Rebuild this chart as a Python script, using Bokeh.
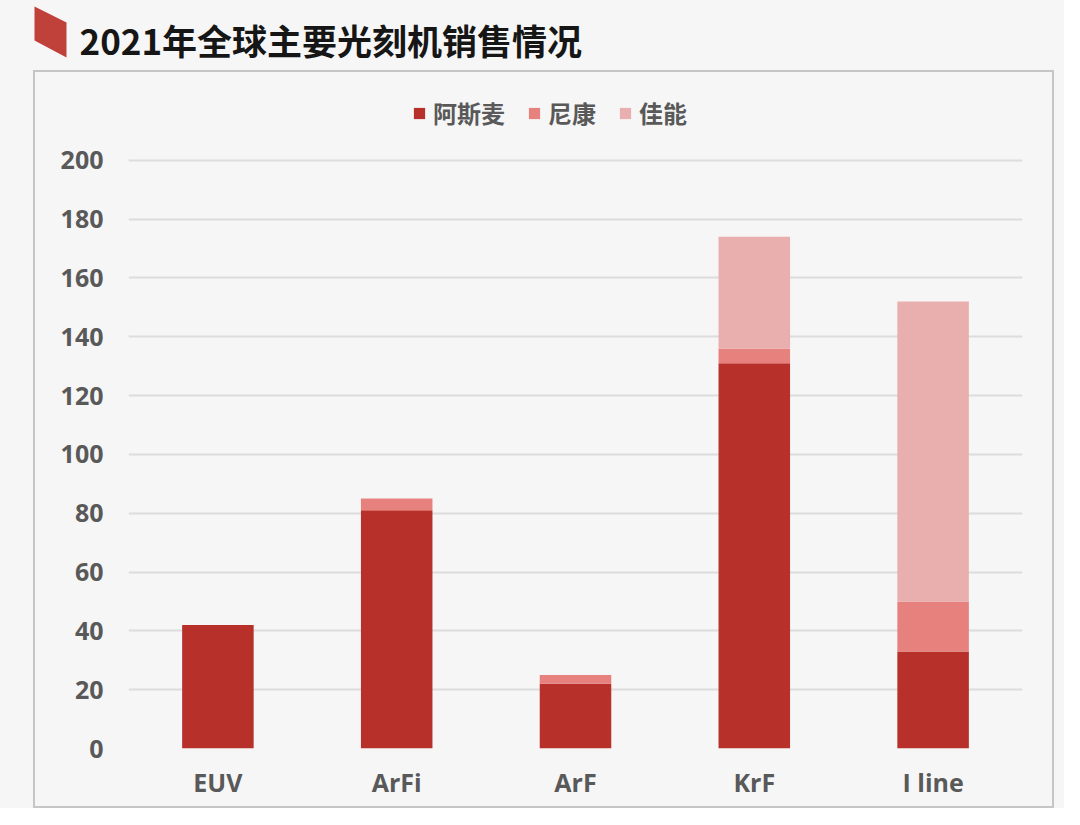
from bokeh.plotting import figure
from bokeh.models import (FactorRange, Legend, LegendItem, ColumnDataSource,
                          FixedTicker, Range1d)
from bokeh.core.properties import value
from bokeh.layouts import column
from bokeh.embed import file_html
from bokeh.resources import INLINE

# ---- data ----
categories = ["EUV", "ArFi", "ArF", "KrF", "I line"]
asml = [42, 81, 22, 131, 33]
nikon = [0, 4, 3, 5, 17]
canon = [0, 0, 0, 38, 102]
series_names = ["阿斯麦", "尼康", "佳能"]
series_keys = ["asml", "nikon", "canon"]
colors = ["#B8302A", "#E6817E", "#E9AFAE"]
y_ticks = [0, 20, 40, 60, 80, 100, 120, 140, 160, 180, 200]
title_text = "2021年全球主要光刻机销售情况"

BG = "#F6F6F6"
NUM_FONT = "Open Sans"
CJK_FONT = "Noto Sans CJK SC"

# ---- title strip ----
TW, TH = 1064, 70
tp = figure(width=TW, height=TH, x_range=Range1d(0, TW), y_range=Range1d(TH, 0),
            output_backend="svg", toolbar_location=None, min_border=0,
            x_axis_type=None, y_axis_type=None, outline_line_color=None,
            background_fill_color=BG, border_fill_color=BG)
tp.frame_align = False
tp.grid.visible = False
tp.patch(x=[34, 66, 66, 34], y=[6, 22, 57, 40], fill_color="#C0413A", line_color=None)
tp.text(x=[79], y=[39], text=[title_text], text_font=value(CJK_FONT),
        text_font_style="bold", text_font_size="35px", text_color="#161616",
        text_baseline="middle", text_align="left")

# ---- chart ----
source = ColumnDataSource(dict(cat=categories, asml=asml, nikon=nikon, canon=canon))

CW, CH = 1021, 738
p = figure(x_range=FactorRange(*categories, range_padding=0), y_range=Range1d(0, 222),
           width=CW, height=CH, output_backend="svg", toolbar_location=None,
           min_border_left=93, min_border_right=34, min_border_top=23,
           min_border_bottom=62, background_fill_color=BG, border_fill_color=BG,
           outline_line_color=None)
p.frame_align = False
p.styles = {"border": "2px solid #C6C6C6"}
p.margin = (0, 0, 0, 33)

renderers = p.vbar_stack(series_keys, x="cat", width=0.4, fill_color=colors,
                         line_color=None, source=source)

for ax in (p.xaxis[0], p.yaxis[0]):
    ax.axis_line_color = None
    ax.major_tick_line_color = None
    ax.minor_tick_line_color = None
    ax.major_tick_out = 0
    ax.major_tick_in = 0
    ax.major_label_text_font = NUM_FONT
    ax.major_label_text_font_style = "bold"
    ax.major_label_text_font_size = "25px"
    ax.major_label_text_color = "#595959"
p.yaxis.ticker = FixedTicker(ticks=y_ticks)
p.yaxis.major_label_standoff = 25
p.xaxis.major_label_standoff = 16

p.xgrid.grid_line_color = None
p.ygrid.ticker = FixedTicker(ticks=y_ticks)
p.ygrid.grid_line_color = "#DCDCDC"
p.ygrid.grid_line_width = 2

legend = Legend(items=[LegendItem(label=n, renderers=[r]) for n, r in zip(series_names, renderers)],
                orientation="horizontal", location=(284, 618),
                label_text_font=CJK_FONT, label_text_font_style="bold",
                label_text_font_size="24px", label_text_color="#595959",
                glyph_width=14, glyph_height=14, label_standoff=7, spacing=22,
                padding=0, margin=0, border_line_color=None,
                background_fill_alpha=0)
p.add_layout(legend, "center")

layout = column(tp, p, spacing=0)
layout.styles = {"background-color": BG}

html = file_html(layout, INLINE)
html = html.replace("<body>", '<body style="background-color: %s;">' % BG, 1)
open("out.html", "w").write(html)
